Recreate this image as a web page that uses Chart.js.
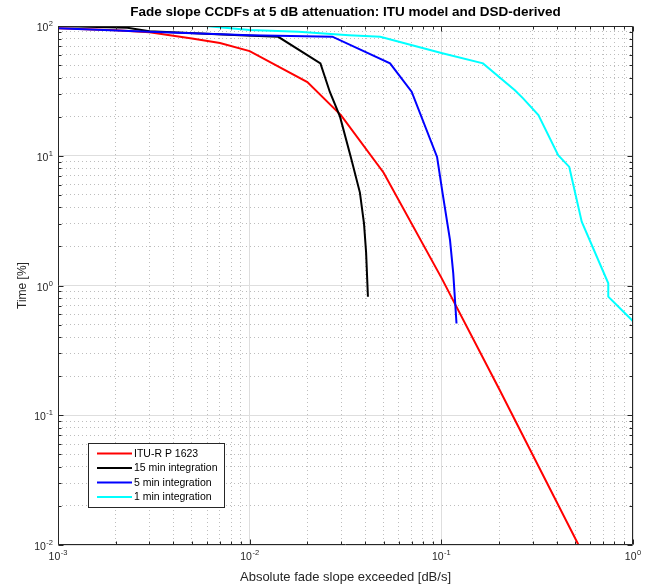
<!DOCTYPE html>
<html><head><meta charset="utf-8">
<script src="https://cdn.jsdelivr.net/npm/chart.js@4.4.1/dist/chart.umd.min.js"></script>
<style>html,body{margin:0;padding:0;background:#fff;}</style>
</head><body>
<canvas id="c" width="659" height="587"></canvas>
<script>
// ---- data ----
const chartTitle = 'Fade slope CCDFs at 5 dB attenuation: ITU model and DSD-derived';
const xTitle = 'Absolute fade slope exceeded [dB/s]';
const yTitle = 'Time [%]';
const seriesNames = ['ITU-R P 1623', '15 min integration', '5 min integration', '1 min integration'];
const seriesColors = ['#ff0000', '#000000', '#0000ff', '#00ffff'];

const ituX = [0.001, 0.002, 0.003, 0.005, 0.007, 0.01, 0.02, 0.03, 0.05, 0.1, 0.2, 0.52];
const ituY = [96, 92.7, 89.5, 80, 74, 64, 37, 20.5, 7.4, 1.15, 0.16, 0.01];

const min15X = [0.001, 0.0023, 0.003, 0.0089, 0.0141, 0.0234, 0.0262, 0.0296, 0.0338, 0.0376, 0.0395, 0.0405, 0.0414];
const min15Y = [100, 97, 91, 85, 82.5, 51.5, 31, 20, 9.6, 5.2, 3.0, 1.8, 0.82];

const min5X = [0.001, 0.003, 0.01, 0.027, 0.054, 0.07, 0.095, 0.1016, 0.111, 0.1154, 0.12];
const min5Y = [96, 90.4, 85, 82.7, 51.5, 31.2, 9.8, 5.1, 2.24, 1.24, 0.51];

const min1X = [0.0059, 0.01, 0.018, 0.033, 0.048, 0.1, 0.165, 0.242, 0.267, 0.321, 0.407, 0.465, 0.54, 0.743, 0.743, 1.0];
const min1Y = [100, 93, 90.4, 85, 82.7, 62, 51.5, 32, 27.7, 20.6, 10.1, 8.2, 3.1, 1.04, 0.82, 0.53];

const xDecades = [-3, -2, -1, 0];
const yDecades = [-2, -1, 0, 1, 2];

// ---- helpers ----
const FONT = '"Liberation Sans", Arial, Helvetica, sans-serif';
const AXIS = '#262626';
const pts = (xs, ys) => xs.map((x, i) => ({x: x, y: ys[i]}));
function logTicks(decades) {
  const t = [];
  for (let k = 0; k < decades.length; k++) {
    const d = decades[k];
    t.push({value: Math.pow(10, d), major: true});
    if (k < decades.length - 1) for (let m = 2; m <= 9; m++) t.push({value: m * Math.pow(10, d), major: false});
  }
  return t;
}
const gridColor = c => (c.tick && c.tick.major) ? '#dedede' : '#bdbdbd';
const gridDash = c => (c.tick && c.tick.major) ? [] : [1, 3];

function drawPow(ctx, x, y, exp, align) {
  ctx.font = '10.5px ' + FONT;
  const w1 = ctx.measureText('10').width;
  ctx.font = '7.5px ' + FONT;
  const w2 = ctx.measureText(exp).width;
  const tot = w1 + w2 + 0.5;
  let sx = align === 'right' ? x - tot : x - tot / 2;
  ctx.textBaseline = 'alphabetic';
  ctx.textAlign = 'left';
  ctx.font = '10.5px ' + FONT;
  ctx.fillText('10', sx, y);
  ctx.font = '7.5px ' + FONT;
  ctx.fillText(exp, sx + w1 + 0.5, y - 5);
}

const matlabAxes = {
  id: 'matlabAxes',
  afterDatasetsDraw(chart) {
    const {ctx, chartArea: a, scales} = chart;
    const xs = scales.x, ys = scales.y;
    const L = Math.round(a.left) + 0.5, R = Math.round(a.right) - 0.5;
    const T = Math.round(a.top) + 0.5, B = Math.round(a.bottom) - 0.5;
    ctx.save();
    ctx.strokeStyle = AXIS; ctx.lineWidth = 1;
    ctx.beginPath();
    ctx.rect(L, T, R - L, B - T);
    xs.ticks.forEach(t => {
      const p = Math.round(xs.getPixelForValue(t.value)) + 0.5;
      const len = t.major ? 5 : 3;
      ctx.moveTo(p, B); ctx.lineTo(p, B - len);
      ctx.moveTo(p, T); ctx.lineTo(p, T + len);
    });
    ys.ticks.forEach(t => {
      const p = Math.round(ys.getPixelForValue(t.value)) + 0.5;
      const len = t.major ? 5 : 3;
      ctx.moveTo(L, p); ctx.lineTo(L + len, p);
      ctx.moveTo(R, p); ctx.lineTo(R - len, p);
    });
    ctx.stroke();

    // tick labels
    ctx.fillStyle = AXIS;
    xDecades.forEach(d => {
      const p = xs.getPixelForValue(Math.pow(10, d));
      drawPow(ctx, p, a.bottom + 15, String(d), 'center');
    });
    yDecades.forEach(d => {
      const p = ys.getPixelForValue(Math.pow(10, d));
      drawPow(ctx, a.left - 5, p + 5, String(d), 'right');
    });

    // title centred over the axes
    ctx.fillStyle = '#000';
    ctx.font = 'bold 13.5px ' + FONT;
    ctx.textAlign = 'center';
    ctx.textBaseline = 'middle';
    ctx.fillText(chartTitle, (a.left + a.right) / 2, 12);

    // legend box inside axes
    const bx = 88.5, by = 443.5, bw = 136, bh = 64;
    ctx.fillStyle = '#ffffff';
    ctx.fillRect(bx, by, bw, bh);
    ctx.strokeStyle = AXIS; ctx.lineWidth = 1;
    ctx.strokeRect(bx, by, bw, bh);
    ctx.font = '10.5px ' + FONT;
    ctx.textBaseline = 'middle';
    ctx.textAlign = 'left';
    chart.data.datasets.forEach((ds, i) => {
      const yy = 453.5 + i * 14.5;
      ctx.strokeStyle = ds.borderColor; ctx.lineWidth = 2;
      ctx.beginPath(); ctx.moveTo(97, yy); ctx.lineTo(132, yy); ctx.stroke();
      ctx.fillStyle = '#000';
      ctx.fillText(ds.label, 134, yy + 0.5);
    });
    ctx.restore();
  }
};

const xsData = [ituX, min15X, min5X, min1X];
const ysData = [ituY, min15Y, min5Y, min1Y];
const datasets = seriesNames.map((name, i) => ({
  label: name,
  data: pts(xsData[i], ysData[i]),
  borderColor: seriesColors[i],
  backgroundColor: seriesColors[i],
  borderWidth: 2,
  showLine: true,
  pointRadius: 0,
  fill: false,
  tension: 0,
  order: 3 - i
}));

new Chart(document.getElementById('c'), {
  type: 'scatter',
  data: {datasets: datasets},
  options: {
    responsive: false,
    animation: false,
    devicePixelRatio: 1,
    layout: {padding: {left: 0, right: 26, top: 26, bottom: 0}},
    plugins: {
      legend: {display: false},
      tooltip: {enabled: false},
      title: {display: false}
    },
    scales: {
      x: {
        type: 'logarithmic', position: 'bottom', min: 0.001, max: 1,
        afterBuildTicks: s => { s.ticks = logTicks(xDecades); },
        afterFit: s => { s.height = 42; },
        ticks: {display: false},
        grid: {color: gridColor, lineWidth: 1, drawTicks: false},
        border: {display: false, dash: gridDash},
        title: {display: true, text: xTitle, color: AXIS, font: {family: FONT, size: 13}, padding: {top: 0, bottom: 1.5}}
      },
      y: {
        type: 'logarithmic', position: 'left', min: 0.01, max: 100,
        afterBuildTicks: s => { s.ticks = logTicks(yDecades); },
        afterFit: s => { s.width = 58; },
        ticks: {display: false},
        grid: {color: gridColor, lineWidth: 1, drawTicks: false},
        border: {display: false, dash: gridDash},
        title: {display: true, text: yTitle, color: AXIS, font: {family: FONT, size: 12}, padding: {top: 15, bottom: 0}}
      }
    }
  },
  plugins: [matlabAxes]
});
</script>
</body></html>
